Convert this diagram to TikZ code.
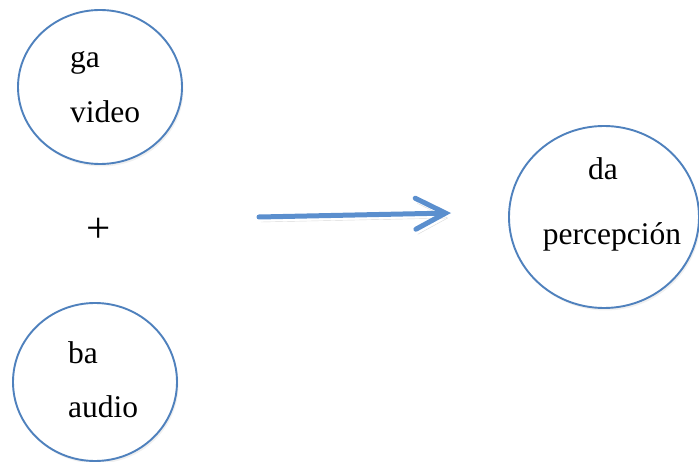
\documentclass[tikz,border=0pt]{standalone}
\usepackage{fontspec}
\setmainfont{Liberation Serif}
\usetikzlibrary{shapes.geometric,shadows,arrows.meta}
\tikzset{>={Straight Barb[length=30pt,width=31pt,line cap=round]}}
\definecolor{ringblue}{RGB}{79,129,189}
\definecolor{arrowblue}{RGB}{91,143,206}

\begin{document}
\begin{tikzpicture}[x=1pt,y=-1pt,
  ring/.style={ellipse,draw=ringblue,line width=1.9pt,fill=white,inner sep=0pt,
    drop shadow={shadow xshift=1.5pt,shadow yshift=-2.5pt,opacity=0.12}},
  word/.style={font=\fontsize{31.5}{37}\selectfont,inner sep=0pt}]
  \useasboundingbox (0,0) rectangle (699,462);
  % the three circles
  \node[ring,minimum width=164pt,minimum height=154pt] (video) at (100,87) {};
  \node[ring,minimum width=164pt,minimum height=158pt] (audio) at (95,382) {};
  \node[ring,minimum width=190pt,minimum height=182pt] (percep) at (604,217) {};
  % texts
  \node[word,anchor=base west] (ga) at (70,68) {ga};
  \node[word,anchor=base west] (vid) at (70,123) {video};
  \node[word,anchor=base west] (ba) at (68,363) {ba};
  \node[word,anchor=base west] (aud) at (68,417) {audio};
  \node[word,anchor=base] (da) at (603,180) {da};
  \node[word,anchor=base] (per) at (612,245) {percepción};
  \node[word,font=\fontsize{43}{48}\selectfont] (plus) at (99,230) {+};
  % arrow
  \coordinate (start) at (259,217);
  \coordinate (end) at (451,213);
  \draw[->,arrowblue,line width=5pt,line cap=round,
    preaction={draw=black,opacity=0.15,transform canvas={shift={(2pt,-5pt)}}}]
    (start) -- (end);
\end{tikzpicture}
\end{document}
